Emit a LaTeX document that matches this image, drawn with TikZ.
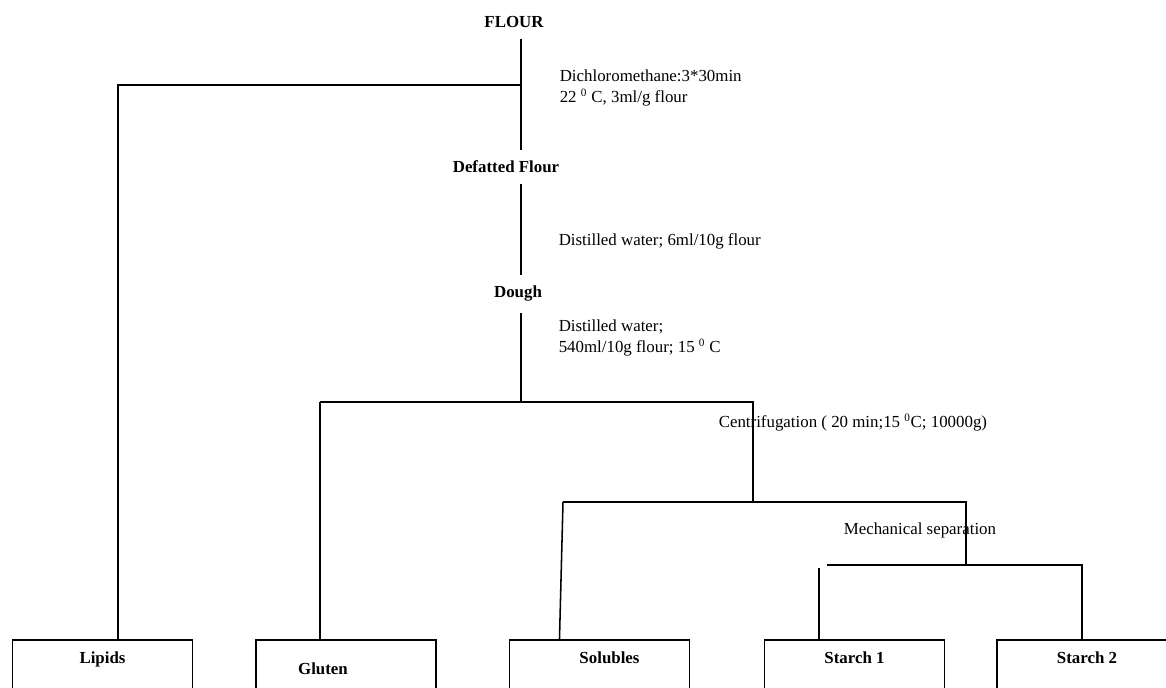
\documentclass[tikz,border=0pt]{standalone}
\usepackage{fontspec}
\setmainfont{Liberation Serif}
\usetikzlibrary{positioning,calc}

\begin{document}
\begin{tikzpicture}[x=0.025cm,y=-0.025cm,line width=1.1pt,
    proc/.style={font=\fontsize{12}{14.5}\selectfont\bfseries,inner xsep=2pt,inner ysep=7.5pt},
    cond/.style={font=\fontsize{12}{14.5}\selectfont,anchor=west,align=left,inner sep=0pt},
    prod/.style={draw,font=\fontsize{12}{14.5}\selectfont\bfseries,minimum width=4.5cm,
      minimum height=1.225cm,anchor=north,inner sep=0pt,text height=8pt,text depth=9pt}]
  \useasboundingbox (0,0) rectangle (1166,688);
  % steps
  \node[proc] (flour) at (514,22) {FLOUR};
  \node[proc] (defat) at (506,167) {Defatted Flour};
  \node[proc] (dough) at (518,294) {Dough};
  % conditions
  \node[cond] (dcm) at (559,88) {Dichloromethane:3*30min\\22 \textsuperscript{0} C, 3ml/g flour};
  \node[cond] (water1) at (558,241) {Distilled water; 6ml/10g flour};
  \node[cond] (water2) at (558,338) {Distilled water;\\540ml/10g flour; 15 \textsuperscript{0} C};
  \node[cond] (centr) at (718,423) {Centrifugation ( 20 min;15 \textsuperscript{0}C; 10000g)};
  \node[cond] (mech) at (843,530) {Mechanical separation};
  % products
  \node[prod] (lipids) at (102.5,639) {Lipids};
  \node[prod,text height=14pt,text depth=0pt] (gluten) at (346,639) {Gluten\hspace{1.15cm}\null};
  \node[prod] (solubles) at (599.5,639) {\hspace{0.5cm}Solubles};
  \node[prod] (starch1) at (854.5,639) {Starch 1};
  \node[prod] (starch2) at (1087,639) {Starch 2};
  % junctions
  \coordinate (j1) at (521,85);
  \coordinate (l1) at (118,85);
  \coordinate (j2) at (521,402);
  \coordinate (g1) at (320,402);
  \coordinate (c1) at (753,402);
  \coordinate (c2) at (753,502);
  \coordinate (s1) at (563,502);
  \coordinate (m1) at (966,502);
  \coordinate (m2) at (966,565);
  \coordinate (t1) at (827,565);
  \coordinate (t2) at (1082,565);
  \coordinate (t3) at (819,568);
  % main line
  \draw (flour.south -| j1) -- (defat.north -| j1);
  \draw (j1) -- (l1) -- (l1 |- lipids.north);
  \draw (defat.south -| j1) -- (dough.north -| j1);
  \draw (dough.south -| j2) -- (j2);
  % centrifugation
  \draw (g1) -- (g1 |- gluten.north);
  \draw (g1) -- (c1) -- (c2);
  \draw (s1) -- (m1) -- (m2);
  \draw (s1) -- ([xshift=-1cm]solubles.north);
  % mechanical separation
  \draw (t1) -- (t2) -- (t2 |- starch2.north);
  \draw (t3) -- (t3 |- starch1.north);
\end{tikzpicture}
\end{document}
